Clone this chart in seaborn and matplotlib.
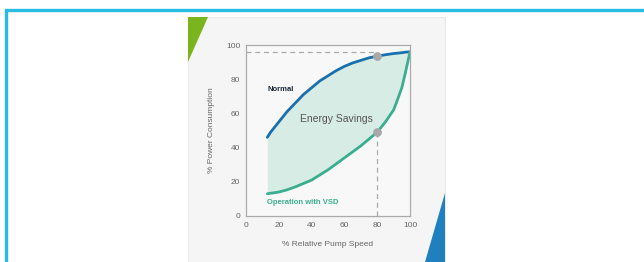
import numpy as np
import pandas as pd
import matplotlib.pyplot as plt
import seaborn as sns
from matplotlib.patches import Rectangle, Polygon

# values
speed = [13, 15, 20, 25, 30, 35, 40, 45, 50, 55, 60, 65, 70, 75, 80, 85, 90, 92, 95, 97, 100]
normal = [46, 49, 55, 61, 66, 71, 75, 79, 82, 85, 87.5, 89.5, 91, 92.5, 93.5, 94.3, 95, 95.2, 95.5, 95.8, 96]
vsd = [13, 13.3, 14, 15.3, 17, 19, 21, 24, 27, 30.5, 34, 37.5, 41, 45, 49, 55, 62, 67, 75, 83, 96]
x_ticks = [0, 20, 40, 60, 80, 100]
y_ticks = [0, 20, 40, 60, 80, 100]
mark_speed = 80

df = pd.DataFrame({'Speed': speed, 'Normal': normal, 'VSD': vsd})

sns.set_style('white')
plt.rcParams['font.family'] = ['Liberation Sans', 'DejaVu Sans']

fig = plt.figure(figsize=(6.44, 2.62), dpi=100)
fig.patch.set_facecolor('white')

# outer cyan frame (only top and left visible)
fig.add_artist(Rectangle((5.5 / 644, -0.1), 1.2, 1.1 - 9.5 / 262, transform=fig.transFigure,
                         fill=False, edgecolor='#27bde2', linewidth=2.4, zorder=-10))
# card
fig.add_artist(Rectangle((188 / 644, 0), (445 - 188) / 644, 1 - 17 / 262, transform=fig.transFigure,
                         facecolor='#f5f5f5', edgecolor='#e8e8e8', linewidth=0.6, zorder=-10))
fig.add_artist(Polygon([(188 / 644, 1 - 17 / 262), (208 / 644, 1 - 17 / 262), (188 / 644, 1 - 62 / 262)],
                       closed=True, transform=fig.transFigure, facecolor='#7ab51d', edgecolor='none', zorder=-9))
fig.add_artist(Polygon([(445 / 644, 1 - 193 / 262), (445 / 644, 0), (425 / 644, 0)],
                       closed=True, transform=fig.transFigure, facecolor='#1f7fbf', edgecolor='none', zorder=-9))

ax = fig.add_axes([246 / 644, 1 - 216 / 262, (410 - 246) / 644, (216 - 45) / 262])
ax.set_facecolor('#f8f8f8')

ax.fill_between(df['Speed'], df['VSD'], df['Normal'], color='#d5ebe5', alpha=0.9, linewidth=0)
sns.lineplot(data=df, x='Speed', y='Normal', ax=ax, color='#1a70ae', linewidth=2)
sns.lineplot(data=df, x='Speed', y='VSD', ax=ax, color='#3aae8f', linewidth=2)

n80 = np.interp(mark_speed, speed, normal)
v80 = np.interp(mark_speed, speed, vsd)
ax.plot([0, mark_speed], [n80 + 2.5, n80 + 2.5], ls='--', color='#aaaaaa', lw=0.9, dashes=(4, 3))
ax.plot([mark_speed, mark_speed], [0, v80], ls='--', color='#aaaaaa', lw=0.9, dashes=(4, 3))
ax.scatter([mark_speed, mark_speed], [n80, v80], s=28, color='#a8a8a8', zorder=5)

ax.text(13, 73, 'Normal', fontsize=5.5, fontweight='bold', color='#1c2a3a')
ax.text(33, 57, 'Energy Savings', fontsize=7.5, color='#555555', va='center')
ax.text(13, 7, 'Operation with VSD', fontsize=5.5, fontweight='bold', color='#3aae8f')

ax.set_xlim(0, 100)
ax.set_ylim(0, 100)
ax.set_xticks(x_ticks)
ax.set_yticks(y_ticks)
ax.tick_params(labelsize=6, colors='#666666', length=0, pad=4)
ax.set_xlabel('% Relative Pump Speed', fontsize=6, color='#666666', labelpad=9)
ax.set_ylabel('% Power Consumption', fontsize=6, color='#666666', labelpad=8)
for s in ax.spines.values():
    s.set_color('#aaaaaa')
    s.set_linewidth(0.9)

plt.savefig('out.png', dpi=100)
